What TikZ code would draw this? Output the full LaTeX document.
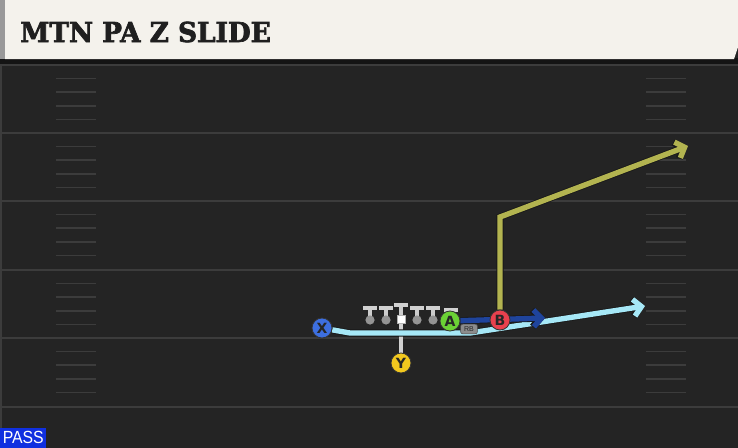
\documentclass[tikz,border=0pt]{standalone}
\usepackage{fontspec}
\setmainfont{DejaVu Sans}
\newfontfamily\titlefont[FakeStretch=0.96, FakeBold=2.5]{DejaVu Serif Bold}
\newfontfamily\tagfont{Liberation Sans}
\newfontfamily\passfont[FakeStretch=0.9]{Liberation Sans}
\usetikzlibrary{arrows.meta}
\usetikzlibrary{positioning}
\definecolor{fieldbg}{HTML}{242424}
\definecolor{fieldline}{HTML}{3C3C3C}
\definecolor{headbg}{HTML}{F4F2EC}
\definecolor{xblue}{HTML}{3D6FE0}
\definecolor{yyellow}{HTML}{F2C81E}
\definecolor{agreen}{HTML}{6BD135}
\definecolor{bred}{HTML}{E8414E}
\definecolor{xcyan}{HTML}{A6E8F7}
\definecolor{bolive}{HTML}{B3B450}
\definecolor{adarkblue}{HTML}{1F449C}
\definecolor{passblue}{HTML}{1030E0}
\pgfdeclarelayer{field}
\pgfdeclarelayer{routes}
\pgfsetlayers{field,routes,main}
\tikzset{
  yardline/.style={
    draw=fieldline,
    line width=1.4pt,
  },
  hashmark/.style={
    draw=fieldline,
    line width=1.2pt,
  },
  player/.style={
    draw=black!80,
    shape=circle,
    line width=0.6pt,
    inner sep=0pt,
    minimum size=0.5cm,
    text=black!85,
    font=\bfseries\fontsize{10}{10}\selectfont
  },
  route/.style={
    line width=3.8pt,
    line join=miter,
    preaction={draw=black!90, line width=5pt},
    -{Straight Barb[length=5.5pt,width=12pt]},
  },
  lmbar/.style={
    draw=black!18,
    line width=3pt,
  },
  lmstem/.style={
    draw=black!20,
    line width=3.3pt,
  },
  rbtag/.style={
    draw=black!70,
    fill=black!45,
    shape=rectangle,
    rounded corners=1.5pt,
    inner sep=0pt,
    minimum width=0.42cm,
    minimum height=0.24cm,
    text=black!85,
    font=\tagfont\fontsize{5}{5}\selectfont
  },
}

\begin{document}
\begin{tikzpicture}[x=0.025cm, y=-0.025cm]
  \useasboundingbox (0,0) rectangle (738,448);

  % field
  \begin{pgfonlayer}{field}
    \fill[fieldbg] (0,0) rectangle (738,448);
    \foreach \yl in {65,133,201,270,338,407}
      \draw[yardline] (0,\yl) -- (738,\yl);
    \foreach \yl in {65,133,201,270,338}
      \foreach \k in {1,2,3,4} {
        \draw[hashmark] (56,\yl+13.6*\k) -- (96,\yl+13.6*\k);
        \draw[hashmark] (646,\yl+13.6*\k) -- (686,\yl+13.6*\k);
      }
    \draw[fieldline, line width=1.2pt] (1,62) -- (1,448);

    % header
    \fill[black!92] (0,58) rectangle (738,64);
    \fill[headbg] (5,0) -- (738,0) -- (738,47) -- (734,59) -- (5,59) -- cycle;
    \fill[black!40] (0,0) rectangle (5,59);
  \end{pgfonlayer}

  \node[anchor=base west, inner sep=0pt, text=black!88,
    font=\titlefont\fontsize{19.5}{20}\selectfont] (title) at (20,42) {MTN PA Z SLIDE};

  % line
  \foreach \lx in {370,386,417,433} {
    \draw[lmstem] (\lx,309) -- (\lx,318);
    \fill[black!42] (\lx,320) circle (4.6);
    \draw[lmbar] (\lx-7,308) -- (\lx+7,308);
  }
  \draw[lmbar] (444,310) -- (458,310);
  \draw[lmstem] (401,305) -- (401,315);
  \draw[lmbar] (394,305) -- (408,305);
  \node[draw=black!30, fill=white, inner sep=0pt, minimum size=0.21cm] (C) at (401,319) {};

  % players
  \node[player, fill=xblue] (X) at (322,328) {X};
  \node[player, fill=yyellow] (Y) at (401,363) {Y};
  \node[player, fill=agreen] (A) at (450,321) {A};
  \node[player, fill=bred] (B) at (500,320) {B};
  \node[rbtag] (RB) at (469,329) {RB};

  \coordinate (Xend) at (645,306);
  \coordinate (Aend) at (545,318);
  \coordinate (Bend) at (688,146);

  % routes
  \begin{pgfonlayer}{routes}
    \draw[draw=black!18, line width=3pt] (Y) -- (C);
    \draw[route, xcyan] (X) -- (350,333) -- (470,333) -- (Xend);
    \draw[route, adarkblue] (A) -- (Aend);
    \draw[route, bolive] (B) -- (500,217) -- (Bend);
  \end{pgfonlayer}

  \node[fill=passblue, anchor=south west, minimum width=46*0.025cm, minimum height=20*0.025cm,
    inner sep=0pt, text=white, font=\passfont\fontsize{12.5}{12.5}\selectfont] (pass) at (0,448) {PASS};
\end{tikzpicture}
\end{document}
